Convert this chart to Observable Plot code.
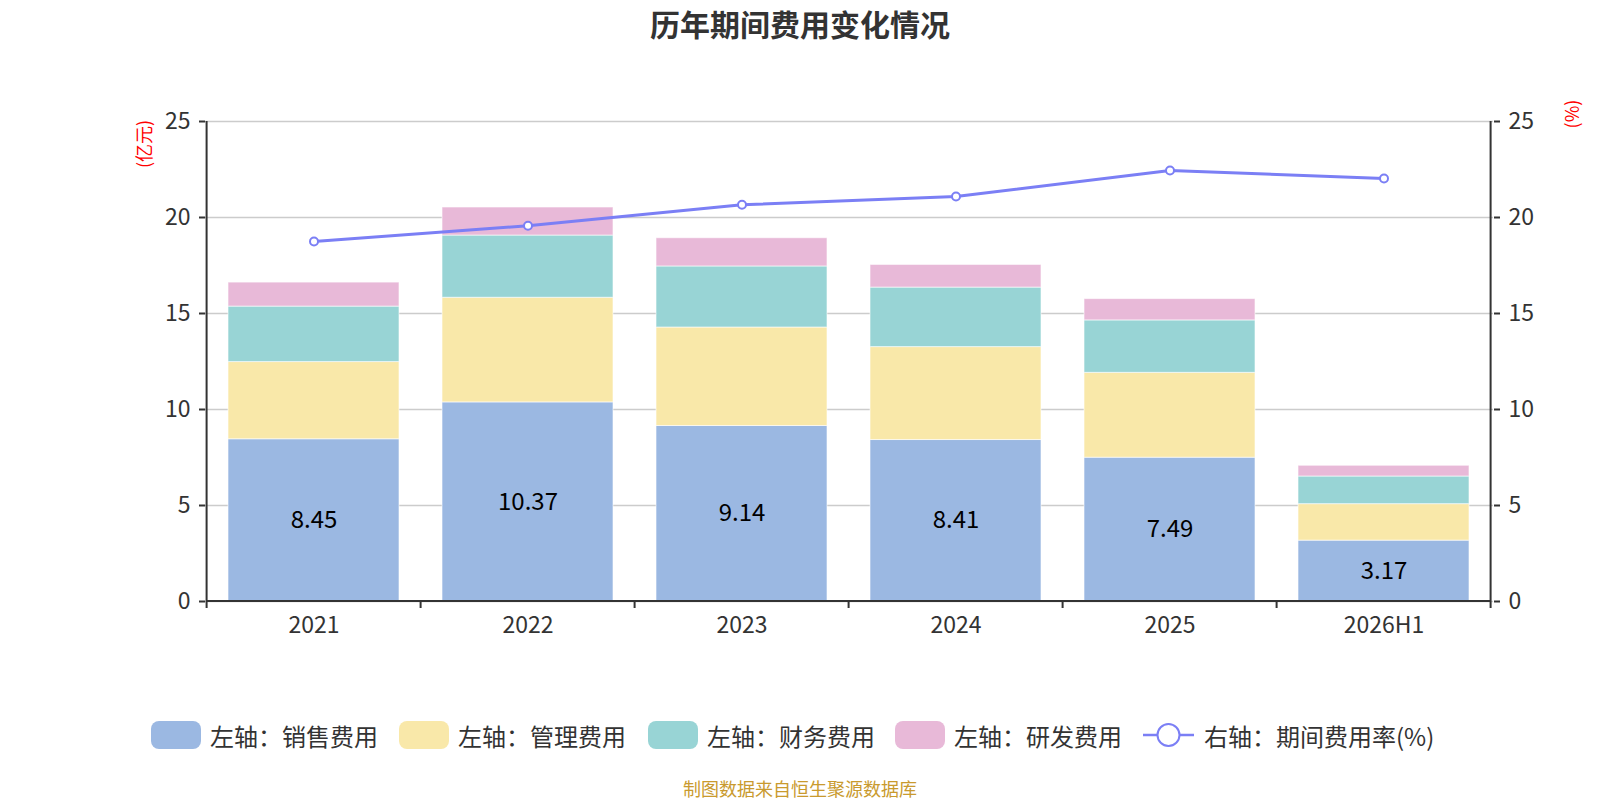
<!DOCTYPE html>
<html>
<head>
<meta charset="utf-8">
<script src="https://cdn.jsdelivr.net/npm/d3@7"></script>
<script src="https://cdn.jsdelivr.net/npm/@observablehq/plot@0.6"></script>
<style>
  html, body { margin: 0; padding: 0; background: #fff; }
  body { width: 1600px; height: 800px; position: relative; overflow: hidden; font-family: "Noto Sans CJK SC", "Noto Sans", sans-serif; }
  #chart { position: absolute; left: 0; top: 0; }
  .title { position: absolute; left: 0; width: 1600px; top: 3px; text-align: center; font-size: 30px; font-weight: bold; color: #333; line-height: 40px; }
  .unit { position: absolute; color: #f00; font-size: 18px; line-height: 18px; white-space: nowrap; transform: translate(-50%, -50%) rotate(-90deg); }
  .legend-item { position: absolute; top: 721px; height: 28px; display: flex; align-items: center; font-size: 24px; color: #333; white-space: nowrap; }
  .sw { width: 50px; height: 28px; border-radius: 8px; margin-right: 9px; }
  .caption { position: absolute; left: 0; width: 1600px; top: 777px; text-align: center; font-size: 18px; color: #c99a2e; line-height: 22px; }
</style>
</head>
<body>
<div class="title">历年期间费用变化情况</div>
<div class="unit" style="left:143px; top:144px;">(亿元)</div>
<div class="unit" style="left:1571px; top:114px;">(%)</div>
<div id="chart"></div>
<div id="legend"></div>
<div class="caption">制图数据来自恒生聚源数据库</div>
<script>
// ---- data ----
const years = ["2021", "2022", "2023", "2024", "2025", "2026H1"];
const salesExp = [8.45, 10.37, 9.14, 8.41, 7.49, 3.17];
const adminExp = [4.02, 5.45, 5.13, 4.84, 4.42, 1.90];
const financeExp = [2.89, 3.24, 3.18, 3.10, 2.73, 1.44];
const rdExp = [1.25, 1.46, 1.47, 1.18, 1.11, 0.56];
const expenseRate = [18.75, 19.57, 20.66, 21.09, 22.45, 22.03];
const seriesNames = ["左轴：销售费用", "左轴：管理费用", "左轴：财务费用", "左轴：研发费用"];
const lineName = "右轴：期间费用率(%)";
const yTicks = [0, 5, 10, 15, 20, 25];

// ---- styles ----
const seriesColors = ["#9bb8e2", "#f9e8a9", "#98d4d5", "#e8b9d8"];
const lineColor = "#7b7ff5";
const axisColor = "#333";

const seriesValues = [salesExp, adminExp, financeExp, rdExp];
const stacked = [];
seriesNames.forEach((s, si) => {
  years.forEach((y, i) => stacked.push({ year: y, series: s, value: seriesValues[si][i] }));
});
const salesData = years.map((y, i) => ({ year: y, value: salesExp[i] }));
const rateData = years.map((y, i) => ({ year: y, value: expenseRate[i] }));

const W = 1600, H = 800;
const mL = 205, mR = 107, mT = 121, mB = 199;
const padInner = 0.2, padOuter = 0.1;

// custom axis lines & band-boundary ticks drawn from the x/y scales
function axisFrame(index, scales, values, dims) {
  const g = d3.create("svg:g");
  const x = scales.x, y = scales.y;
  const step = x(years[1]) - x(years[0]);
  const left = x(years[0]) - step * padOuter;
  const y0 = y(0), yTop = y(25);
  const right = left + step * years.length;
  g.append("line").attr("x1", left).attr("x2", right).attr("y1", y0).attr("y2", y0)
    .attr("stroke", axisColor).attr("stroke-width", 2);
  g.append("line").attr("x1", left).attr("x2", left).attr("y1", yTop).attr("y2", y0)
    .attr("stroke", axisColor).attr("stroke-width", 2);
  g.append("line").attr("x1", right).attr("x2", right).attr("y1", yTop).attr("y2", y0)
    .attr("stroke", axisColor).attr("stroke-width", 2);
  for (let i = 0; i <= years.length; i++) {
    const bx = left + i * step;
    g.append("line").attr("x1", bx).attr("x2", bx).attr("y1", y0).attr("y2", y0 + 7)
      .attr("stroke", axisColor).attr("stroke-width", 2);
  }
  return g.node();
}

const chart = Plot.plot({
  width: W,
  height: H,
  marginLeft: mL,
  marginRight: mR,
  marginTop: mT,
  marginBottom: mB,
  style: { fontFamily: '"Noto Sans CJK SC", "Noto Sans", sans-serif', background: "transparent", overflow: "visible" },
  x: { domain: years, paddingInner: padInner, paddingOuter: padOuter, label: null },
  y: { domain: [0, 25], label: null },
  color: { domain: seriesNames, range: seriesColors },
  marks: [
    Plot.gridY(yTicks, { stroke: "#cccccc", strokeOpacity: 1, strokeWidth: 1.6 }),
    Plot.barY(stacked, Plot.stackY({ order: null }, {
      x: "year", y: "value", fill: "series", stroke: "#ffffff", strokeWidth: 1, strokeOpacity: 0.6
    })),
    Plot.text(salesData, {
      x: "year", y: d => d.value / 2, text: d => d.value.toFixed(2),
      fontSize: 24, fill: "#000"
    }),
    Plot.line(rateData, { x: "year", y: "value", stroke: lineColor, strokeWidth: 3 }),
    Plot.dot(rateData, { x: "year", y: "value", r: 4, fill: "#fff", stroke: lineColor, strokeWidth: 2 }),
    Plot.axisY(yTicks, { anchor: "left", tickSize: 6, tickPadding: 9, fontSize: 23, color: axisColor, stroke: axisColor, strokeWidth: 2, label: null }),
    Plot.axisY(yTicks, { anchor: "right", tickSize: 6, tickPadding: 9, fontSize: 23, color: axisColor, stroke: axisColor, strokeWidth: 2, label: null }),
    Plot.axisX({ tickSize: 0, tickPadding: 15, fontSize: 23, color: axisColor, label: null }),
    axisFrame
  ]
});
document.getElementById("chart").appendChild(chart);

// legend
const legend = document.getElementById("legend");
const legendLefts = [151, 399, 648, 895];
seriesNames.forEach((s, i) => {
  const item = document.createElement("div");
  item.className = "legend-item";
  item.style.left = legendLefts[i] + "px";
  item.innerHTML = `<span class="sw" style="background:${seriesColors[i]}"></span><span>${s}</span>`;
  legend.appendChild(item);
});
const lineItem = document.createElement("div");
lineItem.className = "legend-item";
lineItem.style.left = "1143px";
lineItem.innerHTML = `<svg width="51" height="28" style="margin-right:10px"><line x1="0" x2="51" y1="14" y2="14" stroke="${lineColor}" stroke-width="2.5"/><circle cx="25.5" cy="14" r="11" fill="#fff" stroke="${lineColor}" stroke-width="2"/></svg><span>${lineName}</span>`;
legend.appendChild(lineItem);
</script>
</body>
</html>
